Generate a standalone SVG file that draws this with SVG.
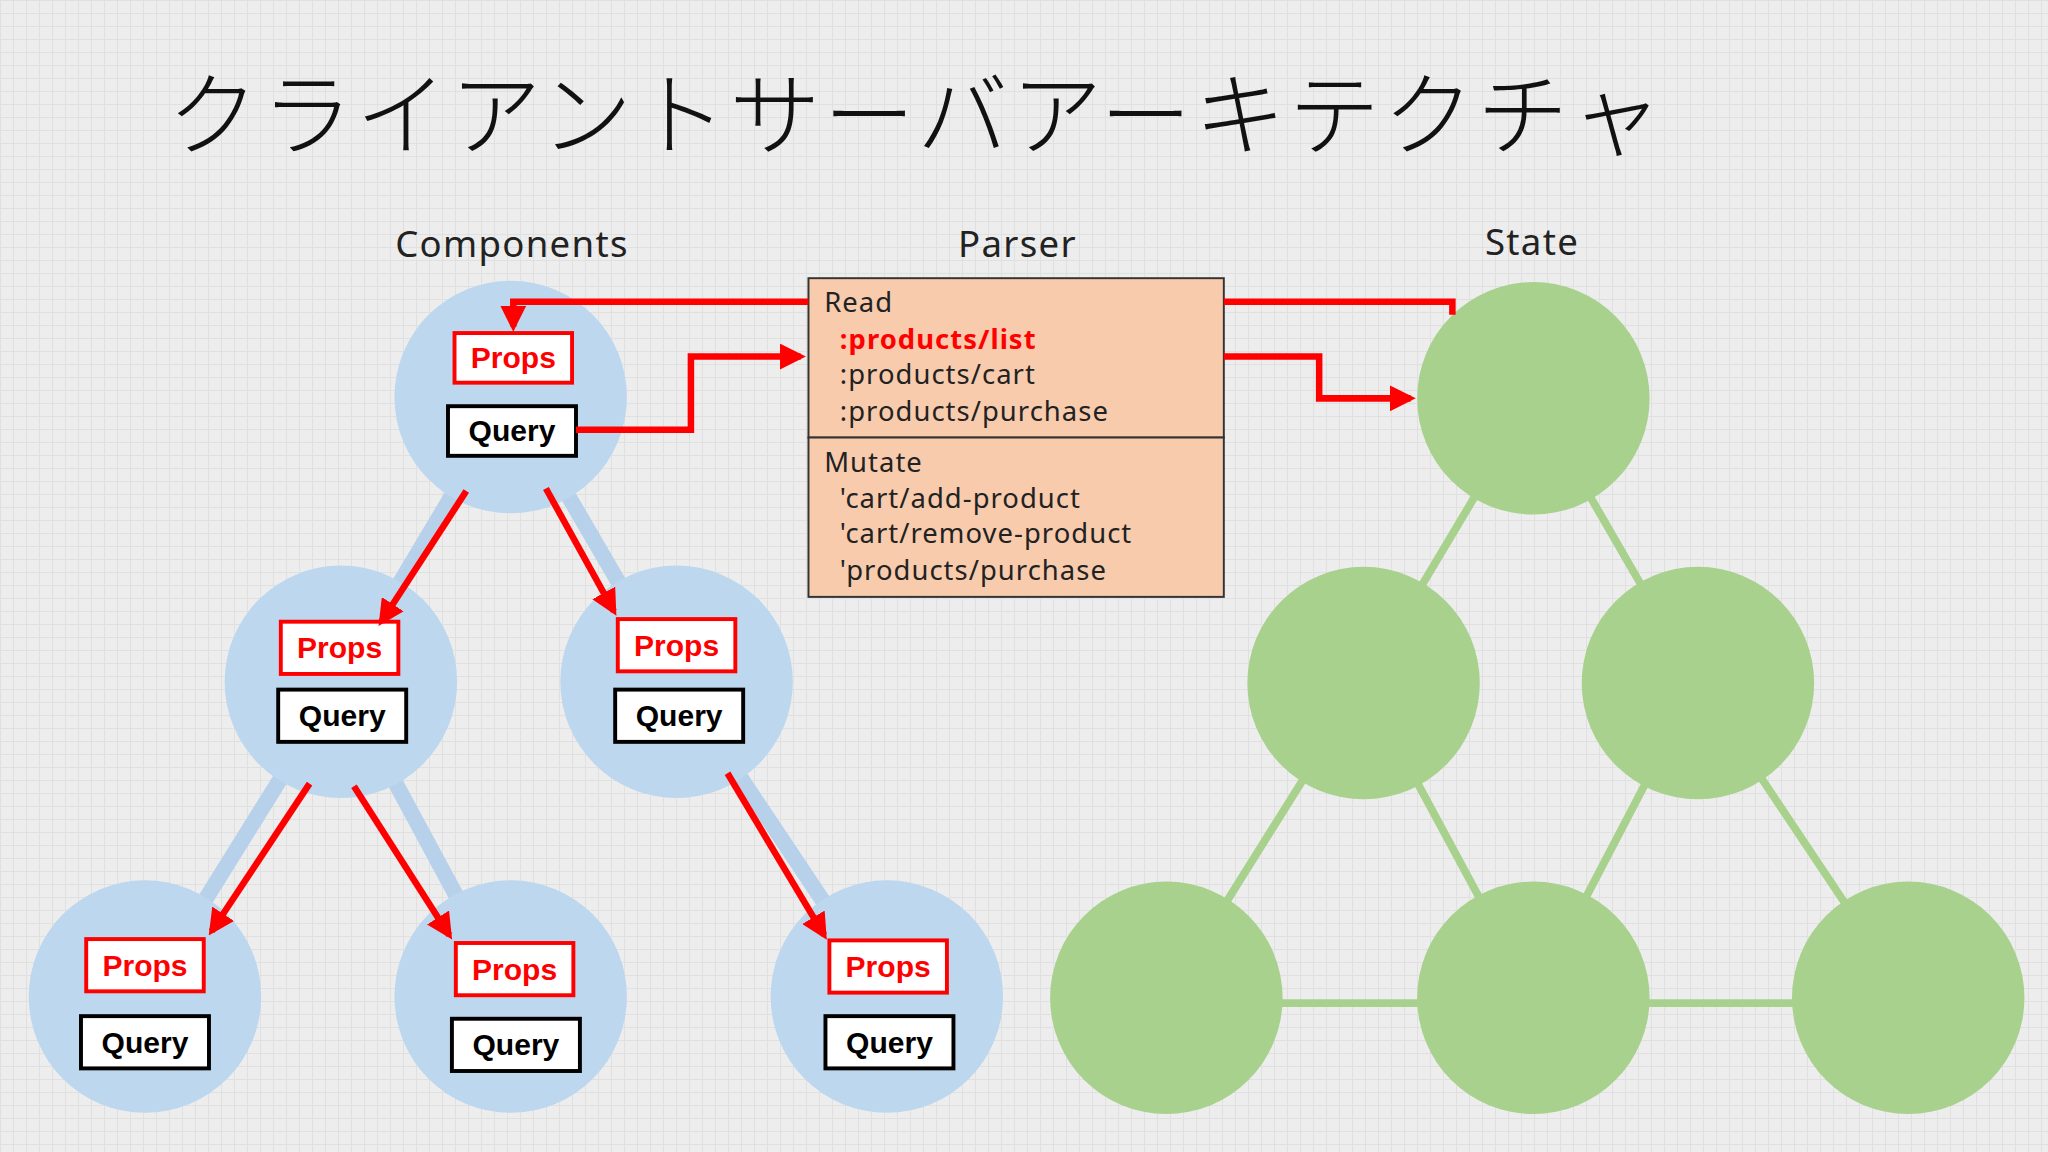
<svg xmlns="http://www.w3.org/2000/svg" width="2048" height="1152" viewBox="0 0 2048 1152">
<defs>
<pattern id="grid" width="13" height="13" patternUnits="userSpaceOnUse">
<rect width="13" height="13" fill="#ededed"/>
<path d="M0 0.5H13M0.5 0V13" stroke="#e0e0e0" stroke-width="1" fill="none"/>
</pattern>
<marker id="ah" viewBox="0 0 10 10" refX="8" refY="5" markerWidth="4" markerHeight="4" orient="auto-start-reverse" markerUnits="strokeWidth">
<path d="M0 0L10 5L0 10z" fill="#ff0000"/>
</marker>
<style>
.lbl{font-family:"Noto Sans","Liberation Sans",sans-serif;font-size:28px;fill:#222;text-anchor:middle;letter-spacing:1px}
.bc{fill:#bdd7ee}
.gc{fill:#a9d18e}
.bl{stroke:#b8d1ea;stroke-width:12;fill:none}
.gl{stroke:#a9d18e;stroke-width:6;fill:none}
.ra{stroke:#ff0000;stroke-width:5;fill:none;marker-end:url(#ah)}
.pb{fill:#fff;stroke:#ff0000;stroke-width:3}
.qb{fill:#fff;stroke:#000;stroke-width:3}
.pt{font-family:"Liberation Sans",sans-serif;font-weight:bold;font-size:23px;fill:#ff0000;text-anchor:middle}
.qt{font-family:"Liberation Sans",sans-serif;font-weight:bold;font-size:23px;fill:#000;text-anchor:middle}
.ps{font-family:"Noto Sans","Liberation Sans",sans-serif;font-size:21px;fill:#222;letter-spacing:0.8px}
</style>
</defs>
<rect width="2048" height="1152" fill="url(#grid)"/>
<g transform="scale(1.3061)">
<text x="128" y="113" font-family="Noto Sans CJK JP, sans-serif" font-weight="300" font-size="70" letter-spacing="2.2" fill="#111">クライアントサーバアーキテクチャ</text>
<text class="lbl" x="392" y="197">Components</text>
<text class="lbl" x="779" y="197">Parser</text>
<text class="lbl" x="1173" y="195">State</text>
<g id="blue-links">
<path class="bl" d="M391 304L261 522M391 304L518 522M261 522L111 763M261 522L391 763M518 522L679 763"/>
</g>
<g id="green-links">
<path class="gl" d="M1174 305L1044 523M1174 305L1300 523M1044 523L893 764M1044 523L1174 764M1300 523L1174 764M1300 523L1461 764M893 768L1461 768"/>
</g>
<g id="c1"><circle class="bc" cx="391" cy="304" r="89"/></g>
<g id="c2"><circle class="bc" cx="261" cy="522" r="89"/></g>
<g id="c3"><circle class="bc" cx="518" cy="522" r="89"/></g>
<g id="c4"><circle class="bc" cx="111" cy="763" r="89"/></g>
<g id="c5"><circle class="bc" cx="391" cy="763" r="89"/></g>
<g id="c6"><circle class="bc" cx="679" cy="763" r="89"/></g>
<g id="s1"><circle class="gc" cx="1174" cy="305" r="89"/></g>
<g id="s2"><circle class="gc" cx="1044" cy="523" r="89"/></g>
<g id="s3"><circle class="gc" cx="1300" cy="523" r="89"/></g>
<g id="s4"><circle class="gc" cx="893" cy="764" r="89"/></g>
<g id="s5"><circle class="gc" cx="1174" cy="764" r="89"/></g>
<g id="s6"><circle class="gc" cx="1461" cy="764" r="89"/></g>
<g id="boxes1"><rect class="pb" x="348" y="255" width="90" height="38"/><text class="pt" x="393" y="282">Props</text>
<rect class="qb" x="343" y="311" width="98" height="38"/><text class="qt" x="392" y="338">Query</text></g>
<g id="boxes2"><rect class="pb" x="215" y="476" width="90" height="40"/><text class="pt" x="260" y="504">Props</text>
<rect class="qb" x="213" y="528" width="98" height="40"/><text class="qt" x="262" y="556">Query</text></g>
<g id="boxes3"><rect class="pb" x="473" y="474" width="90" height="40"/><text class="pt" x="518" y="502">Props</text>
<rect class="qb" x="471" y="528" width="98" height="40"/><text class="qt" x="520" y="556">Query</text></g>
<g id="boxes4"><rect class="pb" x="66" y="719" width="90" height="40"/><text class="pt" x="111" y="747">Props</text>
<rect class="qb" x="62" y="778" width="98" height="40"/><text class="qt" x="111" y="806">Query</text></g>
<g id="boxes5"><rect class="pb" x="349" y="722" width="90" height="40"/><text class="pt" x="394" y="750">Props</text>
<rect class="qb" x="346" y="780" width="98" height="40"/><text class="qt" x="395" y="808">Query</text></g>
<g id="boxes6"><rect class="pb" x="635" y="720" width="90" height="40"/><text class="pt" x="680" y="748">Props</text>
<rect class="qb" x="632" y="778" width="98" height="40"/><text class="qt" x="681" y="806">Query</text></g>
<g id="parser">
<rect x="619" y="213" width="318" height="122" fill="#f8cbad" stroke="#333" stroke-width="1.5"/>
<rect x="619" y="335" width="318" height="122" fill="#f8cbad" stroke="#333" stroke-width="1.5"/>
<text class="ps" x="631" y="239">Read</text>
<text class="ps" x="643" y="267" font-weight="bold" style="fill:#ff0000">:products/list</text>
<text class="ps" x="643" y="294">:products/cart</text>
<text class="ps" x="643" y="322">:products/purchase</text>
<text class="ps" x="631" y="361">Mutate</text>
<text class="ps" x="643" y="389">'cart/add-product</text>
<text class="ps" x="643" y="416">'cart/remove-product</text>
<text class="ps" x="643" y="444">'products/purchase</text>
</g>
<g id="connectors">
<path class="ra" d="M357 376L292 476"/>
<path class="ra" d="M418 374L470 468"/>
<path class="ra" d="M237 600L162 713"/>
<path class="ra" d="M271 602L344 716"/>
<path class="ra" d="M557 592L631 716"/>
<path class="ra" d="M619 231H393V250"/>
<path class="ra" d="M441 329H529V273H613"/>
<path stroke="#ff0000" stroke-width="5" fill="none" d="M937 231H1112V241"/>
<path class="ra" d="M937 273H1010V305H1080"/>
</g>
</g>
</svg>
